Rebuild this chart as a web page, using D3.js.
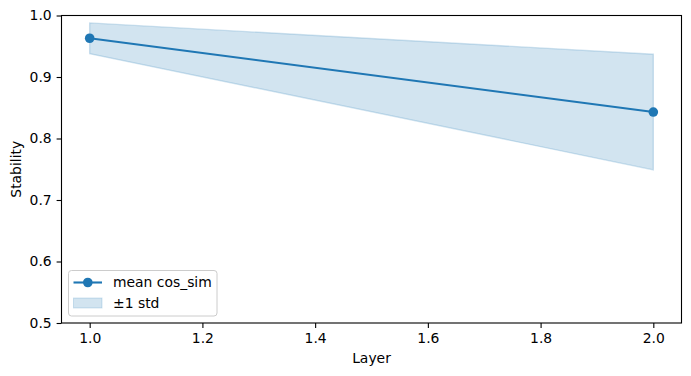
<!DOCTYPE html>
<html>
<head>
<meta charset="utf-8">
<script src="https://cdn.jsdelivr.net/npm/d3@7"></script>
<style>
  body { margin: 0; background: white; }
  svg { font-family: "DejaVu Sans", sans-serif; }
</style>
</head>
<body>
<div class="main"></div>
<script>
// Données
const layers = [1, 2];
const meanCos = [0.963, 0.843];
const stdCos = [0.025, 0.094];
const xTicks = [1.0, 1.2, 1.4, 1.6, 1.8, 2.0];
const yTicks = [0.5, 0.6, 0.7, 0.8, 0.9, 1.0];

const width = 691;
const height = 376;
const margin = { top: 15.5, right: 9.5, bottom: 53, left: 61.5 };
const color = '#1f77b4';
const fontSize = 13.9;
const markerR = 4.8;

const data = layers.map((l, i) => ({ layer: l, mean: meanCos[i], std: stdCos[i] }));

const svg = d3.select('.main')
  .append('svg')
  .attr('width', width)
  .attr('height', height)
  .style('font-size', fontSize + 'px');

const x = d3.scaleLinear()
  .domain([0.95, 2.05])
  .range([margin.left, width - margin.right]);

const y = d3.scaleLinear()
  .domain([0.5, 1.0])
  .range([height - margin.bottom, margin.top]);

// Bande ±1 std
svg.append('path')
  .datum(data)
  .attr('d', d3.area()
    .x(d => x(d.layer))
    .y0(d => y(d.mean - d.std))
    .y1(d => y(d.mean + d.std)))
  .attr('fill', color)
  .attr('fill-opacity', 0.2)
  .attr('stroke', color)
  .attr('stroke-opacity', 0.2)
  .attr('stroke-width', 1.4);

// Ligne moyenne
svg.append('path')
  .datum(data)
  .attr('d', d3.line().x(d => x(d.layer)).y(d => y(d.mean)))
  .attr('fill', 'none')
  .attr('stroke', color)
  .attr('stroke-width', 2.1);

svg.append('g')
  .selectAll('circle')
  .data(data)
  .join('circle')
  .attr('cx', d => x(d.layer))
  .attr('cy', d => y(d.mean))
  .attr('r', markerR)
  .attr('fill', color);

// Axes
const xAxis = svg.append('g')
  .attr('transform', `translate(0, ${height - margin.bottom})`)
  .call(d3.axisBottom(x).tickValues(xTicks).tickFormat(d3.format('.1f')).tickSizeOuter(0).tickSize(4.9).tickPadding(4.9));

const yAxis = svg.append('g')
  .attr('transform', `translate(${margin.left}, 0)`)
  .call(d3.axisLeft(y).tickValues(yTicks).tickFormat(d3.format('.1f')).tickSizeOuter(0).tickSize(4.9).tickPadding(4.9));

[xAxis, yAxis].forEach(g => {
  g.attr('font-size', fontSize).attr('font-family', 'DejaVu Sans');
  g.selectAll('.domain').remove();
  g.selectAll('line').attr('stroke', 'black').attr('stroke-width', 1.1);
  g.selectAll('text').attr('fill', 'black');
});

// Cadre
svg.append('rect')
  .attr('x', margin.left)
  .attr('y', margin.top)
  .attr('width', width - margin.left - margin.right)
  .attr('height', height - margin.top - margin.bottom)
  .attr('fill', 'none')
  .attr('stroke', 'black')
  .attr('stroke-width', 1.1);

// Titres des axes
svg.append('text')
  .attr('x', (margin.left + width - margin.right) / 2)
  .attr('y', 363)
  .attr('text-anchor', 'middle')
  .text('Layer');

svg.append('text')
  .attr('transform', `translate(21, ${(margin.top + height - margin.bottom) / 2}) rotate(-90)`)
  .attr('text-anchor', 'middle')
  .text('Stability');

// Légende
const legend = svg.append('g').attr('transform', 'translate(68.5, 270.5)');
legend.append('rect')
  .attr('width', 148.5)
  .attr('height', 45.5)
  .attr('rx', 3)
  .attr('fill', 'white')
  .attr('fill-opacity', 0.8)
  .attr('stroke', '#cccccc')
  .attr('stroke-width', 1);

legend.append('line')
  .attr('x1', 5).attr('x2', 33.5)
  .attr('y1', 12).attr('y2', 12)
  .attr('stroke', color)
  .attr('stroke-width', 2.1);
legend.append('circle')
  .attr('cx', 19.3).attr('cy', 12).attr('r', markerR)
  .attr('fill', color);
legend.append('text')
  .attr('x', 44.5).attr('y', 12).attr('dy', '0.35em')
  .text('mean cos_sim');

legend.append('rect')
  .attr('x', 5).attr('y', 27.5)
  .attr('width', 28.5).attr('height', 10)
  .attr('fill', color)
  .attr('fill-opacity', 0.2)
  .attr('stroke', color)
  .attr('stroke-opacity', 0.2);
legend.append('text')
  .attr('x', 44.5).attr('y', 32.5).attr('dy', '0.35em')
  .text('±1 std');
</script>
</body>
</html>
